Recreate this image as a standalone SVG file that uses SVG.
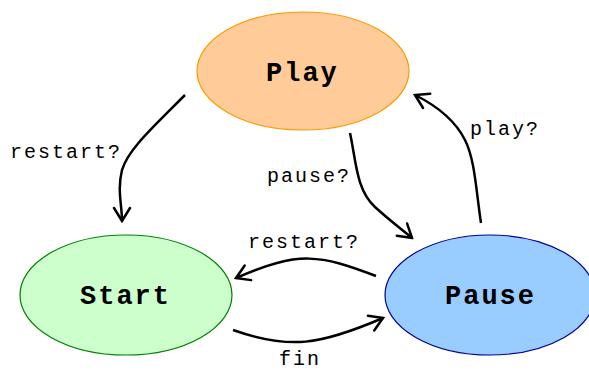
<svg xmlns="http://www.w3.org/2000/svg" width="589" height="371" viewBox="0 0 589 371">
  <style>
    .state { font-family: "Liberation Mono", "Courier New", monospace; font-weight: bold; font-size: 27px; letter-spacing: 2px; fill: #000; }
    .lbl { font-family: "Liberation Mono", "Courier New", monospace; font-size: 20px; letter-spacing: 2px; fill: #000; }
    .edge { fill: none; stroke: #000; stroke-width: 2.5; marker-end: url(#arrow); }
  </style>
  <defs>
    <marker id="arrow" viewBox="-16 -10 18 20" markerWidth="18" markerHeight="20" markerUnits="userSpaceOnUse" refX="0" refY="0" orient="auto">
      <path d="M-13,-8 L0,0 L-13,8" fill="none" stroke="#000" stroke-width="2.5" stroke-linecap="round" stroke-linejoin="miter"/>
    </marker>
  </defs>

  <g id="play">
    <ellipse cx="303" cy="71" rx="106" ry="59" fill="#ffcc99" stroke="#ff9900" stroke-width="1.2"/>
    <text class="state" x="266" y="81">Play</text>
  </g>
  <g id="start">
    <ellipse cx="126" cy="295" rx="106" ry="60" fill="#ccffcc" stroke="#008000" stroke-width="1.2"/>
    <text class="state" x="80" y="304">Start</text>
  </g>
  <g id="pause">
    <ellipse cx="490" cy="295" rx="105" ry="60" fill="#99ccff" stroke="#000099" stroke-width="1.2"/>
    <text class="state" x="445" y="304">Pause</text>
  </g>

  <g id="connectors">
    <path class="edge" d="M185,95 C150,130 128,150 122,170 C117,190 122,205 122,221"/>
    <path class="edge" d="M350,133 C356,160 356,190 375,207 C388,219 400,228 412,238"/>
    <path class="edge" d="M481,223 C476,190 475,160 465,140 C455,120 435,105 415,95"/>
    <path class="edge" d="M376,276 C320,255 300,250 236,278"/>
    <path class="edge" d="M233,330 C290,350 320,345 383,318"/>

    <text class="lbl" x="10" y="158">restart?</text>
    <text class="lbl" x="267" y="182">pause?</text>
    <text class="lbl" x="470" y="135">play?</text>
    <text class="lbl" x="248" y="248">restart?</text>
    <text class="lbl" x="279" y="365">fin</text>
  </g>
</svg>
